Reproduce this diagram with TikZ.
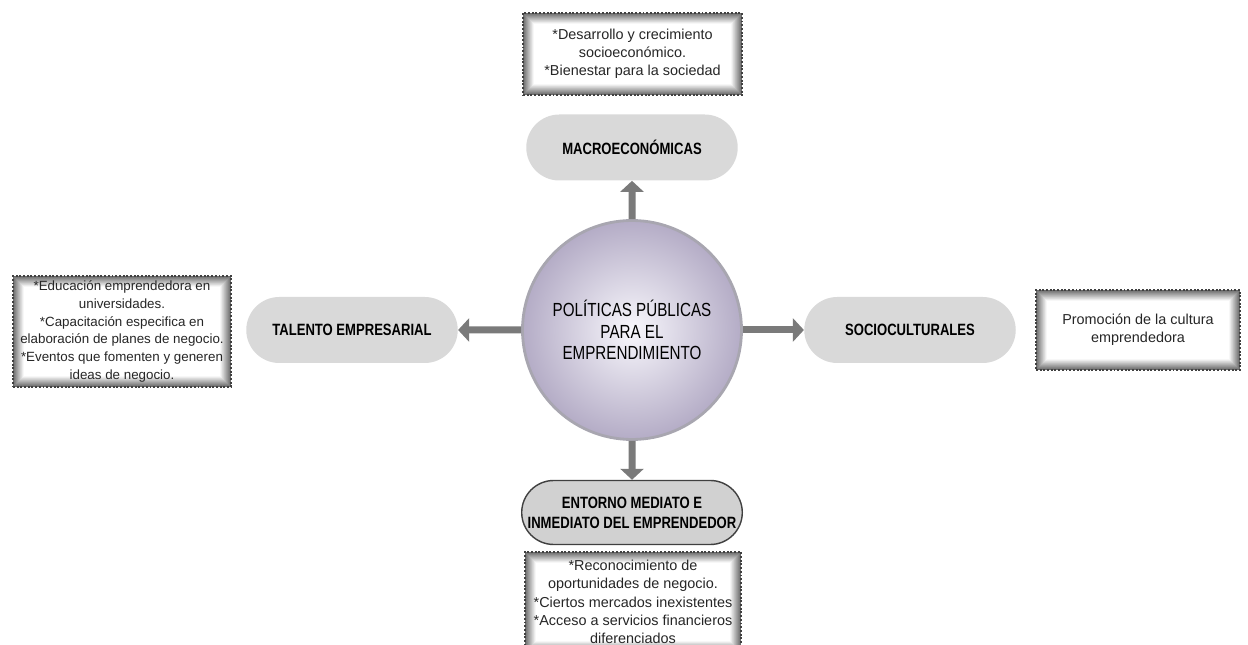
\documentclass[tikz,border=0pt]{standalone}
\usepackage{fontspec}
\setmainfont{Liberation Sans}
\newfontfamily\narrowfont{Liberation Sans}[FakeStretch=0.8]
\usetikzlibrary{shapes.misc,arrows.meta}

\begin{document}
\begin{tikzpicture}[
  conn/.style={-{Triangle[width=4.6mm, length=2.2mm]}, line width=1.4mm, draw=black!52},
  circ/.style={circle, minimum size=4.38cm, inner sep=0pt, draw={rgb,255:red,168;green,166;blue,176}, line width=1.6pt,
               shading=radial, inner color={rgb,255:red,248;green,247;blue,252},
               outer color={rgb,255:red,180;green,172;blue,198},
               align=center, font=\narrowfont\fontsize{10.8}{12.3}\selectfont, text=black},
  pill/.style={rounded rectangle, fill=black!15, minimum width=4.3cm, minimum height=1.32cm, inner sep=1pt,
               align=center, font=\narrowfont\bfseries\fontsize{9.3}{11.4}\selectfont, text=black},
  glowbox/.style={rectangle, draw=black!75, densely dotted, line width=1.1pt, inner sep=0pt,
                  align=center, font=\fontsize{8.2}{10.4}\selectfont, text=black!85,
                  path picture={
                    \foreach \k in {0,...,10}{
                      \pgfmathtruncatemacro\shd{58-5.5*\k}
                      \fill[black!\shd] ([shift={(\k*0.2mm,\k*0.2mm)}]path picture bounding box.south west)
                        rectangle ([shift={(-\k*0.2mm,-\k*0.2mm)}]path picture bounding box.north east);
                    }
                    \fill[white] ([shift={(2.2mm,2.2mm)}]path picture bounding box.south west)
                      rectangle ([shift={(-2.2mm,-2.2mm)}]path picture bounding box.north east);
                  }}
]
\useasboundingbox (0,0) rectangle (24.96,12.9);

%% centre
\node[circ] (pol) at (12.64, 6.3) {POLÍTICAS PÚBLICAS\\PARA EL\\EMPRENDIMIENTO};

%% the four groups
\node[pill] (macro) at (12.64, 9.95) {MACROECONÓMICAS};
\node[pill] (tal) at (7.04, 6.3) {TALENTO EMPRESARIAL};
\node[pill] (socio) at (18.2, 6.3) {SOCIOCULTURALES};
\node[pill, draw=black!75, line width=0.8pt, fill=black!18, minimum width=4.4cm, minimum height=1.28cm]
  (ent) at (12.64, 2.65) {ENTORNO MEDIATO E\\INMEDIATO DEL EMPRENDEDOR};

%% arrows
\draw[conn] (pol) -- (macro);
\draw[conn] (pol) -- (tal);
\draw[conn] (pol) -- (socio);
\draw[conn] (pol) -- (ent);

%% notes
\node[glowbox, minimum width=4.38cm, minimum height=1.64cm] (nmacro) at (12.65, 11.82)
  {*Desarrollo y crecimiento\\socioeconómico.\\*Bienestar para la sociedad};
\node[glowbox, minimum width=4.36cm, minimum height=2.22cm, font=\fontsize{7.6}{10.2}\selectfont] (ntal) at (2.44, 6.27)
  {*Educación emprendedora en\\universidades.\\*Capacitación especifica en\\elaboración de planes de negocio.\\*Eventos que fomenten y generen\\ideas de negocio.};
\node[glowbox, minimum width=4.08cm, minimum height=1.6cm] (nsocio) at (22.76, 6.3)
  {Promoción de la cultura\\emprendedora};
\node[glowbox, minimum width=4.32cm, minimum height=2.0cm] (nent) at (12.66, 0.86)
  {*Reconocimiento de\\oportunidades de negocio.\\*Ciertos mercados inexistentes\\*Acceso a servicios financieros\\diferenciados};
\end{tikzpicture}
\end{document}
